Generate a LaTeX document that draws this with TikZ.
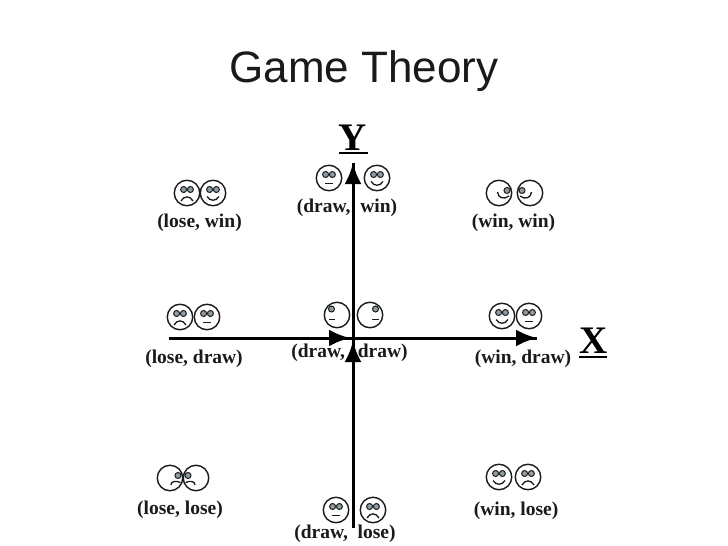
\documentclass[tikz,border=0pt]{standalone}
\usepackage{fontspec}
\setmainfont{Liberation Serif}
\newfontfamily\titlefont{Liberation Sans}
\usetikzlibrary{arrows.meta}
\definecolor{ink}{HTML}{1A1A1A}
\definecolor{eyefill}{HTML}{8E9CA4}
\tikzset{
  x=1pt,y=-1pt,
  facebody/.style={circle,draw=ink,line width=1.4pt,minimum size=25.5pt,inner sep=0pt},
  faceline/.style={draw=ink,line width=1.3pt},
  eyeball/.style={draw=ink,fill=eyefill,line width=1pt},
  payoff/.style={font=\bfseries\fontsize{19.5}{21}\selectfont,text=ink,inner sep=0pt},
  axisletter/.style={font=\bfseries\fontsize{39}{41}\selectfont,text=black,inner sep=0pt},
  axisline/.style={draw=black,line width=3pt},
  axisarrow/.style={draw=black,line width=3pt,-{Latex[length=21pt,width=17pt]}},
  letterrule/.style={draw=black,line width=1.4pt},
}
% front faces: name, x, y, mouth
\newcommand{\smilefront}{\draw[faceline] (-6,3.5) .. controls (-3,8.5) and (3,8.5) .. (6,3.5);}
\newcommand{\frownfront}{\draw[faceline] (-6,8) .. controls (-3,2.5) and (3,2.5) .. (6,8);}
\newcommand{\flatfront}{\draw[faceline] (-4,5.5) -- (4,5.5);}
\newcommand{\frontface}[4]{%
  \node[facebody] (#1) at (#2,#3) {};
  \begin{scope}[shift={(#2,#3)}]
    \draw[eyeball] (-3.4,-3.5) circle[radius=3];
    \draw[eyeball] (3.4,-3.5) circle[radius=3];
    #4
  \end{scope}}
% side faces: name, x, y, xscale, eye x, eye y, mouth
\newcommand{\smileside}{\draw[faceline] (-1.5,-1) .. controls (-1,5) and (5,7) .. (10,3);}
\newcommand{\frownside}{\draw[faceline] (1,7) .. controls (1,3) and (6,2.5) .. (10.5,4.5);}
\newcommand{\flatside}{\draw[faceline] (2,4.5) -- (8.5,4.5);}
\newcommand{\sideface}[7]{%
  \node[facebody] (#1) at (#2,#3) {};
  \begin{scope}[shift={(#2,#3)},xscale=#4]
    \draw[eyeball] (#5,#6) circle[radius=3];
    #7
  \end{scope}}
\begin{document}
\begin{tikzpicture}
\useasboundingbox (0,0) rectangle (728,546);
\fill[white] (0,0) rectangle (728,546);
\node[inner sep=0pt,text=ink,font=\titlefont\fontsize{44}{48}\selectfont] (title) at (364,71.5) {Game Theory};

% axes
\coordinate (xstart) at (169,338);
\coordinate (xmidtip) at (350,338);
\coordinate (xend) at (537,338);
\coordinate (ystart) at (353,528);
\coordinate (ymidtip) at (353,341);
\coordinate (yend) at (353,163);
\draw[axisline] (xstart) -- (xend);
\draw[axisline] (ystart) -- (yend);
\draw[axisarrow] (xstart) -- (xmidtip);
\draw[axisarrow] (xstart) -- (xend);
\draw[axisarrow] (ystart) -- (ymidtip);
\draw[axisarrow] (ystart) -- (yend);

% axis letters
\node[axisletter] (ylabel) at (353,138) {Y};
\coordinate (yruleL) at (339,153);
\coordinate (yruleR) at (368,153);
\draw[letterrule] (yruleL) -- (yruleR);
\node[axisletter] (xlabel) at (593.5,341) {X};
\coordinate (xruleL) at (579,357);
\coordinate (xruleR) at (607,357);
\draw[letterrule] (xruleL) -- (xruleR);

% faces
\frontface{lwa}{187}{193}{\frownfront}
\frontface{lwb}{213}{193}{\smilefront}
\frontface{dwa}{329}{178}{\flatfront}
\frontface{dwb}{377}{178}{\smilefront}
\sideface{wwa}{499}{193}{1}{8}{-2.5}{\smileside}
\sideface{wwb}{530}{193}{-1}{8}{-2.5}{\smileside}
\frontface{lda}{180}{317}{\frownfront}
\frontface{ldb}{207}{317}{\flatfront}
\sideface{dda}{337}{315}{-1}{5.5}{-6}{\flatside}
\sideface{ddb}{370}{315}{1}{5.5}{-6}{\flatside}
\frontface{wda}{502}{316}{\smilefront}
\frontface{wdb}{529}{316}{\flatfront}
\sideface{lla}{170}{478}{1}{8}{-2.5}{\frownside}
\sideface{llb}{196}{478}{-1}{8}{-2.5}{\frownside}
\frontface{dla}{336}{510}{\flatfront}
\frontface{dlb}{373}{510}{\frownfront}
\frontface{wla}{499}{477}{\smilefront}
\frontface{wlb}{528}{477}{\frownfront}

% labels
\node[payoff] (lw) at (199.5,222.5) {(lose, win)};
\node[payoff] (dw) at (347,207.5) {(draw,\ \ win)};
\node[payoff] (ww) at (513.5,222.5) {(win, win)};
\node[payoff] (ld) at (194,359) {(lose, draw)};
\node[payoff] (dd) at (349.5,353) {(draw,\ \ \,draw)};
\node[payoff] (wd) at (523,359) {(win, draw)};
\node[payoff] (ll) at (180,510) {(lose, lose)};
\node[payoff] (dl) at (345,534) {(draw,\ \ lose)};
\node[payoff] (wl) at (516,511) {(win, lose)};
\end{tikzpicture}
\end{document}
